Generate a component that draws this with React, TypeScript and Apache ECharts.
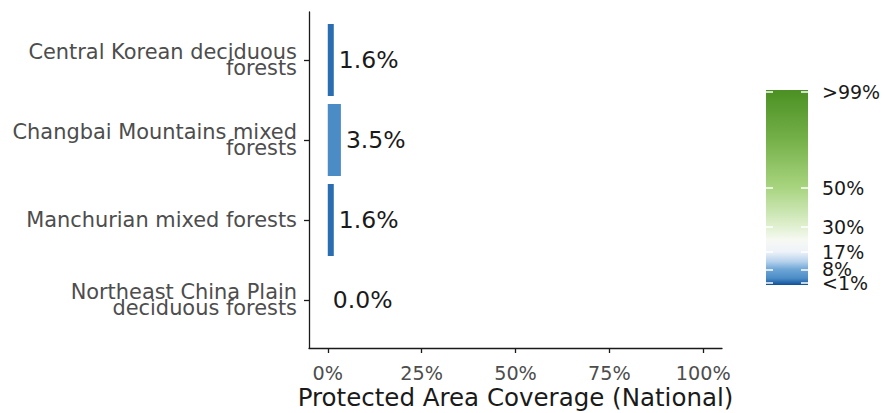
import React, { useEffect, useRef } from "react";
import * as echarts from "echarts";

const categories = [
  "Central Korean deciduous\nforests",
  "Changbai Mountains mixed\nforests",
  "Manchurian mixed forests",
  "Northeast China Plain\ndeciduous forests",
];
const coverage = [1.6, 3.5, 1.6, 0.0];
const xTicks = [0, 25, 50, 75, 100];
const legendBreaks = [1, 8, 17, 30, 50, 99];
const legendLabels = ["<1%", "8%", "17%", "30%", "50%", ">99%"];
const gradientValues = [0, 1.6, 3.5, 8, 12, 17, 23, 30, 50, 75, 100];
const gradientColors = [
  "#124f93",
  "#2a6db0",
  "#4c8cc6",
  "#6ea6d6",
  "#b5d1ec",
  "#eef3f9",
  "#f7f9f3",
  "#e0f0d0",
  "#a8d47f",
  "#74b048",
  "#4b9023",
];

function hexToRgb(h: string) {
  const n = parseInt(h.slice(1), 16);
  return [(n >> 16) & 255, (n >> 8) & 255, n & 255];
}
function colorAt(v: number) {
  for (let i = 0; i < gradientValues.length - 1; i++) {
    const a = gradientValues[i];
    const b = gradientValues[i + 1];
    if (v >= a && v <= b) {
      const t = (v - a) / (b - a);
      const c1 = hexToRgb(gradientColors[i]);
      const c2 = hexToRgb(gradientColors[i + 1]);
      const c = c1.map((x, k) => Math.round(x + (c2[k] - x) * t));
      return `rgb(${c[0]},${c[1]},${c[2]})`;
    }
  }
  return gradientColors[gradientColors.length - 1];
}

export default function App() {
  const ref = useRef<HTMLDivElement>(null);
  useEffect(() => {
    if (!ref.current) return;
    const chart = echarts.init(ref.current, null, { renderer: "svg" });
    const axisLineStyle = { color: "#1a1a1a", width: 1.3 };
    const font = "DejaVu Sans";
    const legendTick = {
      show: true,
      inside: true,
      customValues: legendBreaks,
      length: 7,
      lineStyle: { color: "#ffffff", width: 1.5 },
    };
    // two label axes so that neighbouring legend labels are not hidden as overlapping
    const legendLabelAxis = (parity: number) => {
      const vals = legendBreaks.filter((_, i) => i % 2 === parity);
      return {
        type: "value",
        gridIndex: 2,
        min: 0,
        max: 100,
        position: "right",
        z: 5,
        axisLine: { show: false, onZero: false },
        axisTick: parity === 0 ? legendTick : { show: false },
        axisLabel: {
          customValues: vals,
          formatter: (v: number) => legendLabels[legendBreaks.indexOf(v)] ?? "",
          fontSize: 19,
          color: "#1a1a1a",
          fontFamily: font,
          margin: 14,
          hideOverlap: false,
          showMinLabel: true,
          showMaxLabel: true,
        },
        splitLine: { show: false },
      };
    };
    chart.setOption({
      animation: false,
      backgroundColor: "#ffffff",
      textStyle: { fontFamily: font },
      grid: [
        { left: 309, top: 20, width: 413, height: 320, outerBoundsMode: "none" },
        { left: 309, top: 12, width: 413, height: 336, outerBoundsMode: "none" },
        { left: 766, top: 90, width: 42, height: 195, outerBoundsMode: "none" },
      ],
      xAxis: [
        {
          type: "value",
          gridIndex: 0,
          min: -5,
          max: 105,
          offset: 8,
          axisLine: { show: true, onZero: false, lineStyle: axisLineStyle },
          axisTick: { show: true, customValues: xTicks, length: 5, lineStyle: axisLineStyle },
          axisLabel: {
            customValues: xTicks,
            formatter: (v: number) => `${v}%`,
            color: "#4d4d4d",
            fontSize: 19.2,
            fontFamily: font,
            margin: 16,
          },
          splitLine: { show: false },
          name: "Protected Area Coverage (National)",
          nameLocation: "middle",
          nameGap: 37,
          nameMoveOverlap: false,
          nameTextStyle: { fontSize: 24.5, color: "#1a1a1a", fontFamily: font },
        },
        { type: "value", gridIndex: 1, min: 0, max: 1, show: false },
        { type: "category", gridIndex: 2, data: [""], show: false },
      ],
      yAxis: [
        {
          type: "category",
          gridIndex: 0,
          data: categories,
          inverse: true,
          axisLine: { show: false, onZero: false },
          axisTick: { show: true, alignWithLabel: true, length: 5, lineStyle: axisLineStyle },
          axisLabel: {
            fontSize: 20.9,
            lineHeight: 15.5,
            color: "#4d4d4d",
            fontFamily: font,
            margin: 12,
            align: "right",
            padding: [8, 0, 0, 0],
          },
          splitLine: { show: false },
        },
        {
          type: "value",
          gridIndex: 1,
          min: 0,
          max: 1,
          axisLine: { show: true, onZero: false, lineStyle: axisLineStyle },
          axisTick: { show: false },
          axisLabel: { show: false },
          splitLine: { show: false },
        },
        legendLabelAxis(0),
        legendLabelAxis(1),
        {
          type: "value",
          gridIndex: 2,
          min: 0,
          max: 100,
          position: "left",
          z: 5,
          axisLine: { show: false, onZero: false },
          axisTick: legendTick,
          axisLabel: { show: false },
          splitLine: { show: false },
        },
      ],
      series: [
        {
          type: "bar",
          xAxisIndex: 0,
          yAxisIndex: 0,
          barWidth: "90%",
          data: coverage.map((v) => ({ value: v, itemStyle: { color: colorAt(v) } })),
          label: {
            show: true,
            position: "right",
            distance: 5,
            formatter: (p: any) => `${Number(p.value).toFixed(1)}%`,
            fontSize: 23.5,
            color: "#1a1a1a",
            fontFamily: font,
          },
        },
        {
          type: "bar",
          xAxisIndex: 2,
          yAxisIndex: 2,
          barWidth: "100%",
          silent: true,
          data: [100],
          itemStyle: {
            color: new echarts.graphic.LinearGradient(
              0,
              1,
              0,
              0,
              gradientValues.map((v, i) => ({ offset: v / 100, color: gradientColors[i] }))
            ),
          },
        },
      ],
    });
    return () => chart.dispose();
  }, []);
  return (
    <div
      ref={ref}
      style={{ position: "fixed", left: 0, top: 0, width: 885, height: 413, background: "#fff" }}
    />
  );
}
